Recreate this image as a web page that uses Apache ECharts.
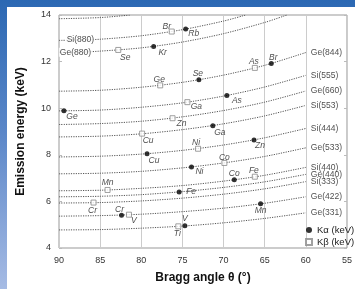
<!DOCTYPE html>
<html>
<head>
<meta charset="utf-8">
<script src="https://cdn.jsdelivr.net/npm/echarts@6/dist/echarts.min.js"></script>
<style>
  html, body { margin: 0; padding: 0; }
  body { width: 355px; height: 289px; overflow: hidden;
         background: linear-gradient(to bottom, #2b68b3 0%, #5a86c8 45%, #a6bbe4 100%); }
  #chart { position: absolute; left: 7px; top: 7px; width: 348px; height: 282px; background: #fff; }
</style>
</head>
<body>
<div id="chart"></div>
<script>
// 晶体反射曲线: [布拉格角, 能量keV]
var si777 = [[90, 13.84], [85, 13.89], [81.3, 14.0]];
var si880 = [[90, 12.91], [87.4, 12.93], [85, 12.96], [80, 13.11], [75, 13.37], [70, 13.74], [67.3, 14.0]];
var ge880 = [[90, 12.40], [88, 12.40], [85, 12.45], [80, 12.59], [75, 12.84], [70, 13.20], [65, 13.68], [62.3, 14.0]];
var ge844 = [[90, 10.73], [85, 10.77], [80, 10.90], [75, 11.11], [70, 11.42], [65, 11.84], [60, 12.39]];
var si555 = [[90, 9.885], [85, 9.92], [80, 10.04], [75, 10.23], [70, 10.52], [65, 10.91], [60, 11.41]];
var ge660 = [[90, 9.30], [85, 9.34], [80, 9.44], [75, 9.63], [70, 9.90], [65, 10.26], [60, 10.74]];
var si553 = [[90, 8.767], [85, 8.80], [80, 8.90], [75, 9.08], [70, 9.33], [65, 9.67], [60, 10.12]];
var si444 = [[90, 7.908], [85, 7.94], [80, 8.03], [75, 8.19], [70, 8.42], [65, 8.73], [60, 9.13]];
var ge533 = [[90, 7.184], [85, 7.21], [80, 7.29], [75, 7.44], [70, 7.65], [65, 7.93], [60, 8.30]];
var si440 = [[90, 6.457], [85, 6.48], [80, 6.56], [75, 6.68], [70, 6.87], [65, 7.12], [60, 7.46]];
var ge440 = [[90, 6.198], [85, 6.22], [80, 6.29], [75, 6.42], [70, 6.60], [65, 6.84], [60, 7.16]];
var si333 = [[90, 5.931], [85, 5.95], [80, 6.02], [75, 6.14], [70, 6.31], [65, 6.54], [60, 6.85]];
var ge422 = [[90, 5.367], [85, 5.39], [80, 5.45], [75, 5.56], [70, 5.71], [65, 5.92], [60, 6.20]];
var ge331 = [[90, 4.776], [85, 4.79], [80, 4.85], [75, 4.94], [70, 5.08], [65, 5.27], [60, 5.51]];

// Kα 发射线
var kaNames  = ['Rb', 'Kr', 'Br', 'Se', 'As', 'Ge', 'Ga', 'Zn', 'Cu', 'Ni', 'Co', 'Fe', 'Mn', 'Cr', 'V'];
var kaAngle  = [74.6, 78.5, 64.2, 73.0, 69.6, 89.4, 71.3, 66.3, 79.3, 73.9, 68.7, 75.4, 65.5, 82.4, 74.7];
var kaEnergy = [13.40, 12.65, 11.92, 11.22, 10.54, 9.89, 9.25, 8.64, 8.05, 7.48, 6.93, 6.40, 5.90, 5.41, 4.95];

// Kβ 发射线
var kbNames  = ['Br', 'Se', 'As', 'Ge', 'Ga', 'Zn', 'Cu', 'Ni', 'Co', 'Fe', 'Mn', 'Cr', 'V', 'Ti'];
var kbAngle  = [76.3, 82.8, 66.2, 77.7, 74.4, 76.2, 79.9, 73.1, 69.9, 66.2, 84.1, 85.8, 81.5, 75.5];
var kbEnergy = [13.29, 12.50, 11.73, 10.98, 10.26, 9.57, 8.91, 8.26, 7.65, 7.06, 6.49, 5.95, 5.43, 4.93];

var xTicks = [90, 85, 80, 75, 70, 65, 60, 55];
var yTicks = [4, 6, 8, 10, 12, 14];

var curves = [
    { name: 'Si(777)', data: si777 },
    { name: 'Si(880)', data: si880, left: 1 },
    { name: 'Ge(880)', data: ge880, left: 1 },
    { name: 'Ge(844)', data: ge844, dy: -1 },
    { name: 'Si(555)', data: si555, dy: -2 },
    { name: 'Ge(660)', data: ge660, dy: -1 },
    { name: 'Si(553)', data: si553, dy: -4 },
    { name: 'Si(444)', data: si444, dy: -2 },
    { name: 'Ge(533)', data: ge533, dy: 0 },
    { name: 'Si(440)', data: si440, dy: -2 },
    { name: 'Ge(440)', data: ge440, dy: -1 },
    { name: 'Si(333)', data: si333, dy: -1 },
    { name: 'Ge(422)', data: ge422, dy: -1 },
    { name: 'Ge(331)', data: ge331, dy: 0 }
];

// 元素标签相对于点的偏移
var kaOffset = { Rb: [8, 5], Kr: [9, 6], Br: [2, -6], Se: [-1, -6], As: [10, 5], Ge: [8, 6], Ga: [7, 7],
                 Zn: [6, 6], Cu: [7, 7], Ni: [8, 5], Co: [0, -6], Fe: [12, 0], Mn: [0, 7], Cr: [-2, -6], V: [0, -7] };
var kbOffset = { Br: [-5, -5], Se: [7, 8], As: [-1, -6], Ge: [-1, -6], Ga: [9, 4], Zn: [9, 5], Cu: [6, 7],
                 Ni: [-2, -6], Co: [0, -5], Fe: [-1, -6], Mn: [0, -7], Cr: [-1, 8], V: [5, 6], Ti: [-1, 7] };

var FONT = 'Liberation Sans, Arial, sans-serif';
var myChart = echarts.init(document.getElementById('chart'));

var series = [];
curves.forEach(function (c) {
    series.push({
        name: c.name, type: 'line', data: c.data, smooth: 0.3,
        symbol: 'none', silent: true, z: 1,
        lineStyle: { color: '#555', width: 1, type: [1.2, 1.2] }
    });
});

// 晶体标签
var rightLabels = [], leftLabels = [];
curves.forEach(function (c) {
    if (c.left != null) {
        leftLabels.push({ value: c.data[c.left], label: { formatter: c.name } });
    } else if (c.dy != null) {
        rightLabels.push({ value: c.data[c.data.length - 1], label: { formatter: c.name, offset: [0, c.dy] } });
    }
});
series.push({
    type: 'scatter', data: rightLabels, symbolSize: 0, silent: true, z: 3,
    label: { show: true, position: 'right', distance: 5, fontSize: 8.5, color: '#222', fontFamily: FONT },
    labelLayout: { hideOverlap: false }
});
series.push({
    type: 'scatter', data: leftLabels, symbolSize: 0, silent: true, z: 3,
    label: { show: true, position: 'inside', fontSize: 8.5, color: '#222', fontFamily: FONT,
             backgroundColor: '#fff', padding: [0, 1] }
});

function elemData(names, angles, energies, offsets) {
    return names.map(function (n, i) {
        return { value: [angles[i], energies[i]], name: n,
                 label: { show: true, position: 'inside', formatter: n, offset: offsets[n] } };
    });
}
var elemLabel = { fontSize: 8.5, fontStyle: 'italic', color: '#222', fontFamily: FONT };

series.push({
    name: 'K\u03b1 (keV)', type: 'scatter', symbol: 'circle', symbolSize: 5, z: 4,
    itemStyle: { color: '#000' },
    label: elemLabel,
    data: elemData(kaNames, kaAngle, kaEnergy, kaOffset)
});
series.push({
    name: 'K\u03b2 (keV)', type: 'scatter', symbol: 'rect', symbolSize: 5, z: 4,
    itemStyle: { color: '#fff', borderColor: '#888', borderWidth: 1 },
    label: elemLabel,
    data: elemData(kbNames, kbAngle, kbEnergy, kbOffset)
});

var option = {
    animation: false,
    textStyle: { fontFamily: FONT },
    grid: { left: 49, right: 5, top: 8, bottom: 41, show: true, borderColor: '#999', borderWidth: 1 },
    legend: {
        orient: 'vertical', left: 293, top: 213, itemGap: 2, itemWidth: 6, itemHeight: 6,
        textStyle: { fontSize: 9.5, color: '#222', fontFamily: FONT },
        data: [{ name: 'K\u03b1 (keV)', icon: 'circle' }, { name: 'K\u03b2 (keV)', icon: 'rect' }]
    },
    xAxis: {
        type: 'value', inverse: true, min: xTicks[xTicks.length - 1], max: xTicks[0], interval: 5,
        name: 'Bragg angle \u03b8 (\u00b0)', nameLocation: 'middle', nameGap: 24,
        nameTextStyle: { fontSize: 12, fontWeight: 'bold', color: '#111', fontFamily: FONT },
        axisLine: { show: false }, axisTick: { show: false },
        axisLabel: { fontSize: 9, color: '#333', margin: 8 },
        splitLine: { show: true, lineStyle: { color: '#ccc', width: 1 } }
    },
    yAxis: [{
        type: 'value', min: yTicks[0], max: yTicks[yTicks.length - 1], interval: 2,
        name: 'Emission energy (keV)', nameLocation: 'middle', nameGap: 32,
        nameTextStyle: { fontSize: 12, fontWeight: 'bold', color: '#111', fontFamily: FONT },
        axisLine: { show: false },
        axisTick: { show: true, inside: true, length: 3, lineStyle: { color: '#bbb' } },
        axisLabel: { fontSize: 9, color: '#333', margin: 8 },
        splitLine: { show: false }
    }, {
        type: 'value', position: 'right', min: yTicks[0], max: yTicks[yTicks.length - 1], interval: 2,
        axisLine: { show: false },
        axisTick: { show: true, inside: true, length: 3, lineStyle: { color: '#bbb' } },
        axisLabel: { show: false }, splitLine: { show: false }
    }],
    series: series
};
myChart.setOption(option);
</script>
</body>
</html>
